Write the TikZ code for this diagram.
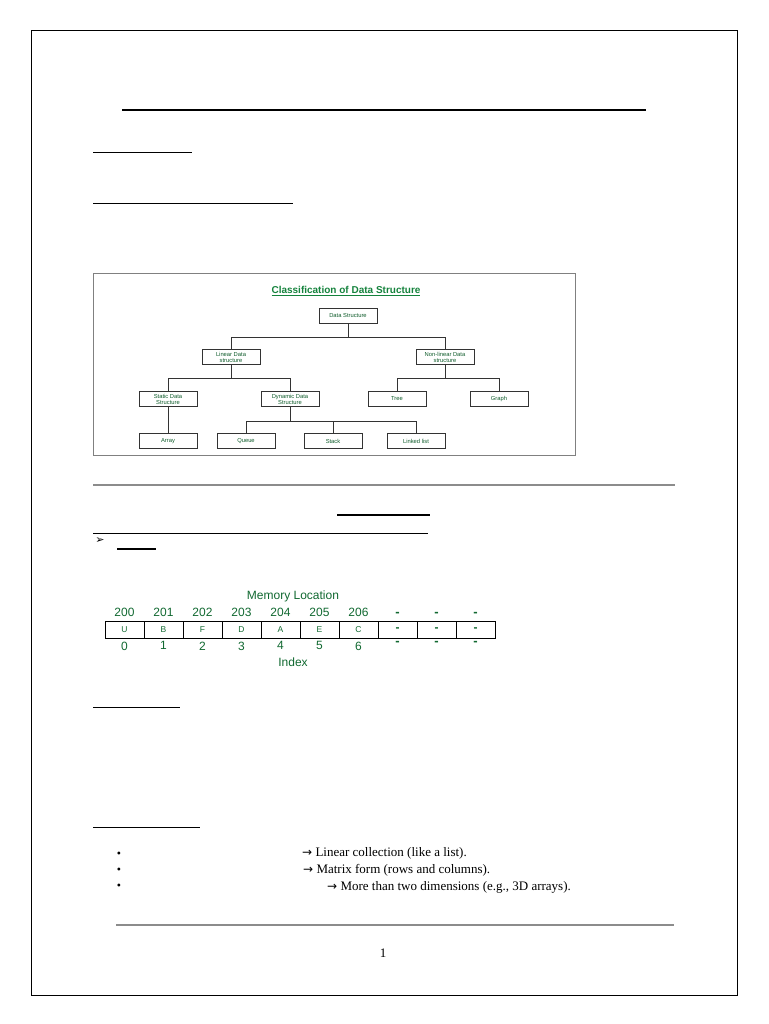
\documentclass[tikz,border=0pt]{standalone}
\usepackage{fontspec}
\setmainfont{Liberation Serif}
\newfontfamily\arialf{Liberation Sans}
\newfontfamily\symf{DejaVu Sans}
\usetikzlibrary{positioning}
\definecolor{dsgreen}{RGB}{20,130,60}
\tikzset{
  box/.style={rectangle, draw=black!80, line width=0.7pt, minimum width=58pt, minimum height=15pt, text centered, align=center, font=\arialf\fontsize{5.8}{6}\selectfont, text=dsgreen!70!black, inner sep=1pt},
  rule/.style={line width=0.8pt},
  grayrule/.style={draw=black!45, line width=1.2pt},
  cell/.style={rectangle, draw=black, line width=0.9pt, minimum width=39pt, minimum height=17pt, inner sep=0pt, font=\arialf\fontsize{8.5}{8.5}\selectfont, text=dsgreen!80!black},
  lbl/.style={font=\arialf\fontsize{12}{12}\selectfont, text=dsgreen!80!black, inner sep=0pt},
  blank/.style={lbl, font=\arialf\bfseries\fontsize{13}{13}\selectfont},
  tline/.style={line width=0.7pt, draw=black!80}
}
\begin{document}
\begin{tikzpicture}[x=1pt,y=-1pt]
\useasboundingbox (0,0) rectangle (768,1024);
% page frame and rules
\draw[line width=0.8pt] (31,30) rectangle (737,995);
\draw[line width=1.4pt] (122,110) -- (646,110);
\draw[rule] (93,152) -- (192,152);
\draw[rule] (93,203) -- (293,203);
\draw[grayrule] (93,485) -- (675,485);
\draw[line width=1.2pt] (337,515) -- (430,515);
\draw[rule] (93,533) -- (428,533);
\node (arr) at (100,541) {\symf\fontsize{11}{11}\selectfont ➢};
\draw[line width=1.2pt] (117,549) -- (156,549);
\draw[rule] (93,707) -- (180,707);
\draw[rule] (93,827) -- (200,827);
\draw[grayrule] (116,925) -- (674,925);
\node (pg) at (383,953) {\fontsize{13}{13}\selectfont 1};

% classification picture
\draw[draw=black!50, line width=0.8pt] (93,273) rectangle (575,455);
\node (ttl) at (346,291) {\arialf\bfseries\fontsize{10}{10}\selectfont\color{dsgreen}\underline{Classification of Data Structure}};
\node (ds) [box] at (348,316) {Data Structure};
\node (lin) [box] at (231,357) {Linear Data\\structure};
\node (nlin) [box] at (445,357) {Non-linear Data\\structure};
\node (stat) [box] at (168,399) {Static Data\\Structure};
\node (dyn) [box] at (290,399) {Dynamic Data\\Structure};
\node (tree) [box] at (397,399) {Tree};
\node (graph) [box] at (499,399) {Graph};
\node (array) [box] at (168,441) {Array};
\node (queue) [box] at (246,441) {Queue};
\node (stack) [box] at (333,441) {Stack};
\node (llist) [box] at (416,441) {Linked list};

\draw[tline] (ds.south) |- (231,337) -- (lin.north);
\draw[tline] (ds.south) |- (445,337) -- (nlin.north);
\draw[tline] (lin.south) |- (168,378) -- (stat.north);
\draw[tline] (lin.south) |- (290,378) -- (dyn.north);
\draw[tline] (nlin.south) |- (397,378) -- (tree.north);
\draw[tline] (nlin.south) |- (499,378) -- (graph.north);
\draw[tline] (stat.south) -- (array.north);
\draw[tline] (dyn.south) |- (246,421) -- (queue.north);
\draw[tline] (dyn.south) |- (333,421) -- (stack.north);
\draw[tline] (dyn.south) |- (416,421) -- (llist.north);

% array picture
\node (mem) [lbl] at (293,596) {Memory Location};
\foreach \v [count=\i from 0] in {U,B,F,D,A,E,C} {
  \node (c\i) [cell] at ({124.5+39*\i},629.5) {\v};
}
\foreach \i in {7,8,9} {
  \node (c\i) [cell, font=\arialf\bfseries\fontsize{12}{12}\selectfont] at ({124.5+39*\i},629.5) {-};
}
\foreach \a [count=\i from 0] in {200,201,202,203,204,205,206} {
  \node (ad\i) [lbl, above=4pt of c\i] {\a};
  \node (ix\i) [lbl, below=3pt of c\i] {\i};
}
\foreach \i in {7,8,9} {
  \node (ad\i) [blank, above=4pt of c\i] {-};
  \node (ix\i) [blank, below=3pt of c\i] {-};
}
\node (idx) [lbl] at (293,662) {Index};

% bullet list
\foreach \y in {855,871,887} {\node (b\y) at (119,\y) {\fontsize{12}{12}\selectfont\textbullet};}
\node (t1) [anchor=west, inner sep=0pt] at (302,853) {\fontsize{13}{13}\selectfont{\symf\fontsize{12}{12}\selectfont →} Linear collection (like a list).};
\node (t2) [anchor=west, inner sep=0pt] at (303,870) {\fontsize{13}{13}\selectfont{\symf\fontsize{12}{12}\selectfont →} Matrix form (rows and columns).};
\node (t3) [anchor=west, inner sep=0pt] at (327,887) {\fontsize{13}{13}\selectfont{\symf\fontsize{12}{12}\selectfont →} More than two dimensions (e.g., 3D arrays).};
\end{tikzpicture}
\end{document}
